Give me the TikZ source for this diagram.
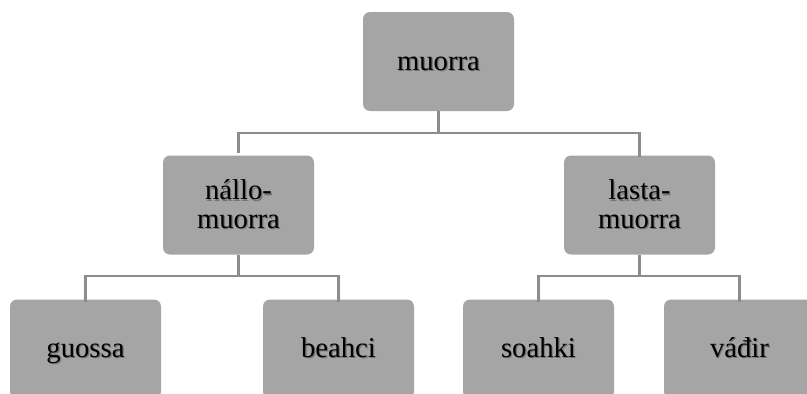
\documentclass[tikz,border=0pt]{standalone}
\usepackage{fontspec}
\setmainfont{Liberation Serif}
\usetikzlibrary{positioning}

\definecolor{boxgray}{HTML}{A5A5A5}
\definecolor{linegray}{HTML}{8C8C8C}
\newcommand\shtext[1]{\makebox[0pt][l]{\kern1.2pt\raisebox{-1.2pt}{\textcolor{black!55}{#1}}}#1}

\begin{document}
\begin{tikzpicture}[x=1pt, y=-1pt,
  concept/.style={draw=none, fill=boxgray, rounded corners=7pt, minimum width=151pt,
    minimum height=99pt, inner sep=0pt, font=\fontsize{28.7}{28.5}\selectfont},
  leaf/.style={concept, text height=20pt, text depth=3pt},
  branch/.style={concept, align=center},
  link/.style={draw=linegray, line width=2.4pt}]
  \path[use as bounding box, clip] (0,0) rectangle (807,394);
  \node[leaf] (muorra) at (438.5,61.5) {\shtext{muorra}};
  \node[branch] (nallo) at (238.5,205) {\shtext{nállo-}\\\shtext{muorra}};
  \node[branch] (lasta) at (639.5,205) {\shtext{lasta-}\\\shtext{muorra}};
  \node[leaf] (guossa) at (85.5,349) {\shtext{guossa}};
  \node[leaf] (beahci) at (338.5,349) {\shtext{beahci}};
  \node[leaf] (soahki) at (538.5,349) {\shtext{soahki}};
  \node[leaf] (vadir) at (739.5,349) {\shtext{váđir}};
  \path[link] (muorra.south) -- ++(0,22) coordinate (top);
  \path[link] (nallo.north) ++(0,-2) |- (top) -| ([yshift=-2pt]lasta.north);
  \path[link] (nallo.south) -- ++(0,21) coordinate (midl);
  \path[link] ([yshift=-3pt]guossa.north) |- (midl) -| ([yshift=-3pt]beahci.north);
  \path[link] (lasta.south) -- ++(0,21) coordinate (midr);
  \path[link] ([yshift=-3pt]soahki.north) |- (midr) -| ([yshift=-3pt]vadir.north);
\end{tikzpicture}
\end{document}
